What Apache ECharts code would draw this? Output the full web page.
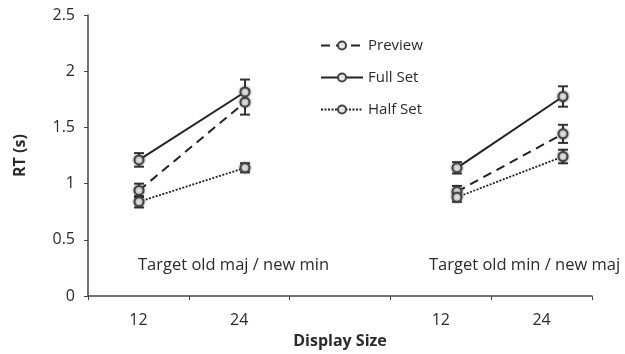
<!DOCTYPE html>
<html>
<head>
<meta charset="utf-8">
<script src="https://cdn.jsdelivr.net/npm/echarts@6/dist/echarts.min.js"></script>
<style>
  html, body { margin: 0; padding: 0; background: #fff; }
  #chart { width: 625px; height: 354px; }
</style>
</head>
<body>
<div id="chart"></div>
<script>
// Display-size categories (the blank slot separates the two target conditions)
const categories = ['12', '24', '', '12', '24'];
const yTicks = [0, 0.5, 1, 1.5, 2, 2.5];
const groupLabels = ['Target old maj / new min', 'Target old min / new maj'];

// Mean RT (s) and error half-widths per condition
const previewRT  = [0.95, 1.73, null, 0.94, 1.45];
const previewErr = [0.06, 0.11, null, 0.05, 0.08];
const fullRT     = [1.22, 1.82, null, 1.15, 1.78];
const fullErr    = [0.06, 0.11, null, 0.05, 0.09];
const halfRT     = [0.85, 1.15, null, 0.89, 1.25];
const halfErr    = [0.05, 0.04, null, 0.04, 0.06];

const FONT = '"Open Sans", Lato, sans-serif';
const INK = '#2b2b2b';
const AXIS = '#444';

const chart = echarts.init(document.getElementById('chart'), null, { renderer: 'canvas' });

function errorSeries(name, values, errs) {
  const data = values.map((v, i) => v == null ? null : [i, v - errs[i], v + errs[i]]).filter(d => d);
  return {
    name: name + ' error',
    type: 'custom',
    xAxisIndex: 1,
    yAxisIndex: 1,
    z: 3,
    silent: true,
    data: data,
    renderItem: function (params, api) {
      const lo = api.coord([api.value(0), api.value(1)]);
      const hi = api.coord([api.value(0), api.value(2)]);
      const w = 5;
      const style = { stroke: '#333', lineWidth: 2 };
      return {
        type: 'group',
        children: [
          { type: 'line', shape: { x1: lo[0], y1: lo[1], x2: hi[0], y2: hi[1] }, style: style },
          { type: 'line', shape: { x1: lo[0] - w, y1: lo[1], x2: lo[0] + w, y2: lo[1] }, style: style },
          { type: 'line', shape: { x1: hi[0] - w, y1: hi[1], x2: hi[0] + w, y2: hi[1] }, style: style }
        ]
      };
    }
  };
}

function lineSeries(name, values, lineType, width) {
  return {
    name: name,
    type: 'line',
    xAxisIndex: 1,
    yAxisIndex: 1,
    z: 4,
    data: values,
    connectNulls: false,
    symbol: 'circle',
    symbolSize: 9,
    showAllSymbol: true,
    lineStyle: { color: '#222', width: width, type: lineType },
    itemStyle: {
      color: '#e6e6e6',
      borderColor: '#444',
      borderWidth: 2,
      shadowBlur: 3,
      shadowColor: 'rgba(0,0,0,0.45)'
    },
    emphasis: { disabled: true }
  };
}

const option = {
  animation: false,
  textStyle: { fontFamily: FONT, color: INK },
  grid: [
    { left: 88, right: 33, top: 15, bottom: 56 },
    { left: 86, right: 9, top: 15, bottom: 56 }
  ],
  legend: {
    orient: 'vertical',
    left: 315,
    top: 33,
    itemWidth: 42,
    itemHeight: 10,
    itemGap: 17,
    data: ['Preview', 'Full Set', 'Half Set'],
    textStyle: { fontFamily: FONT, fontSize: 15, color: INK },
    selectedMode: false
  },
  xAxis: [
    {
      type: 'category',
      gridIndex: 0,
      data: categories,
      boundaryGap: true,
      name: 'Display Size',
      nameLocation: 'middle',
      nameGap: 34,
      nameTextStyle: { fontFamily: FONT, fontSize: 16, fontWeight: 'bold', color: INK },
      axisLine: { lineStyle: { color: AXIS, width: 1.5 } },
      axisTick: { show: true, length: 4, alignWithLabel: false, lineStyle: { color: AXIS } },
      axisLabel: { fontFamily: FONT, fontSize: 16, color: INK, margin: 16 }
    },
    {
      type: 'category',
      gridIndex: 1,
      data: categories,
      show: false
    }
  ],
  yAxis: [
    {
      type: 'value',
      gridIndex: 0,
      min: yTicks[0],
      max: yTicks[yTicks.length - 1],
      interval: 0.5,
      name: 'RT (s)',
      nameLocation: 'middle',
      nameGap: 60,
      nameTextStyle: { fontFamily: FONT, fontSize: 16, fontWeight: 'bold', color: INK },
      splitLine: { show: false },
      axisLine: { show: true, lineStyle: { color: AXIS, width: 1.5 } },
      axisTick: { show: true, length: 4, lineStyle: { color: AXIS } },
      axisLabel: {
        fontFamily: FONT, fontSize: 16, color: INK, margin: 13,
        formatter: v => String(v)
      }
    },
    {
      type: 'value',
      gridIndex: 1,
      min: yTicks[0],
      max: yTicks[yTicks.length - 1],
      show: false
    }
  ],
  graphic: [
    { type: 'text', left: 138, top: 257, style: { text: groupLabels[0], font: '16.5px ' + FONT, fill: INK } },
    { type: 'text', left: 429, top: 257, style: { text: groupLabels[1], font: '16.5px ' + FONT, fill: INK } }
  ],
  series: [
    errorSeries('Preview', previewRT, previewErr),
    errorSeries('Full Set', fullRT, fullErr),
    errorSeries('Half Set', halfRT, halfErr),
    lineSeries('Preview', previewRT, [9, 6], 2),
    lineSeries('Full Set', fullRT, 'solid', 2),
    lineSeries('Half Set', halfRT, [2, 1.5], 1.8)
  ]
};

chart.setOption(option);
</script>
</body>
</html>
